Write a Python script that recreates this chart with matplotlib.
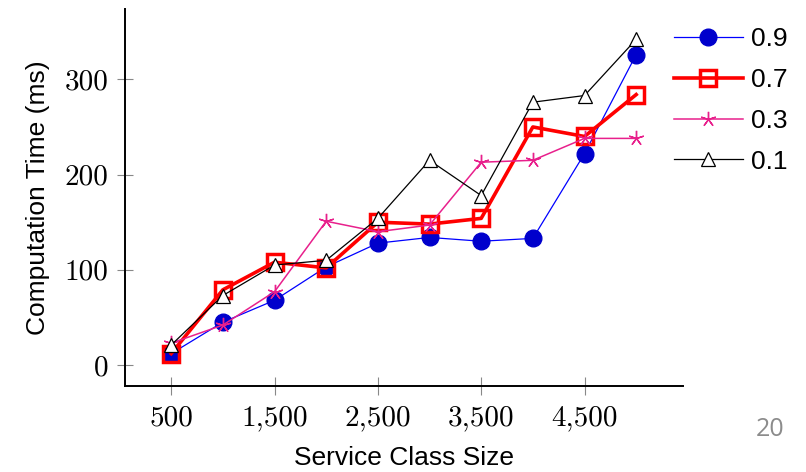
import matplotlib
matplotlib.use('Agg')
import matplotlib.pyplot as plt

# Service class sizes and measured computation times (ms)
sizes = [500, 1000, 1500, 2000, 2500, 3000, 3500, 4000, 4500, 5000]
time_09 = [12, 45, 68, 103, 128, 134, 130, 133, 222, 326]
time_07 = [12, 79, 108, 102, 150, 148, 154, 250, 240, 284]
time_03 = [23, 42, 77, 151, 140, 147, 213, 215, 238, 238]
time_01 = [21, 73, 105, 110, 154, 215, 178, 276, 283, 342]

xticks = [500, 1500, 2500, 3500, 4500]
xtick_labels = ['500', '1,500', '2,500', '3,500', '4,500']
yticks = [0, 100, 200, 300]
ytick_labels = ['0', '100', '200', '300']

plt.rcParams['font.family'] = ['Liberation Sans', 'DejaVu Sans']

fig = plt.figure(figsize=(8.06, 4.72), dpi=100)
ax = fig.add_axes([0.1547, 0.1822, 0.6923, 0.799])

ax.plot(sizes, time_09, color='#0000ff', linewidth=0.9, marker='o',
        markersize=12, markerfacecolor='#0000cc', markeredgecolor='#0000cc',
        label='0.9')
ax.plot(sizes, time_07, color='#ff0000', linewidth=2.6, marker='s',
        markersize=11, markerfacecolor='none', markeredgecolor='#ff0000',
        markeredgewidth=2.5, label='0.7')
ax.plot(sizes, time_03, color='#e8208c', linewidth=1.1, marker=(5, 2, 0),
        markersize=11, markeredgecolor='#e8208c', markeredgewidth=1.0,
        label='0.3')
ax.plot(sizes, time_01, color='black', linewidth=0.9, marker='^',
        markersize=10.5, markerfacecolor='white', markeredgecolor='black',
        markeredgewidth=0.9, label='0.1')

ax.set_xlim(50, 5450)
ax.set_ylim(-22, 374)

ax.set_xticks(xticks)
ax.set_xticklabels(xtick_labels, fontfamily='cmr10', fontsize=21)
ax.set_yticks(yticks)
ax.set_yticklabels(ytick_labels, fontfamily='cmr10', fontsize=21)
ax.tick_params(axis='x', direction='inout', length=13, width=0.8,
               color='#888888', pad=7)
ax.tick_params(axis='y', direction='inout', length=11, width=0.8,
               color='#888888', pad=6)

for side in ['top', 'right']:
    ax.spines[side].set_visible(False)
for side in ['left', 'bottom']:
    ax.spines[side].set_linewidth(1.4)

ax.set_xlabel('Service Class Size', fontsize=19, labelpad=11)
ax.set_ylabel('Computation Time (ms)', fontsize=19, labelpad=11)

ax.legend(loc='upper left', bbox_to_anchor=(674 / 806, 1 - 27 / 472),
          bbox_transform=fig.transFigure, frameon=False, fontsize=19,
          numpoints=1, handlelength=2.6, handletextpad=0.3,
          labelspacing=0.64, borderpad=0, borderaxespad=0)

fig.text(770 / 806, 1 - 429 / 472, '20', fontsize=18, color='#8c8c8c',
         family='Open Sans', ha='center', va='center')

fig.savefig('out.png', dpi=100)
plt.close(fig)
